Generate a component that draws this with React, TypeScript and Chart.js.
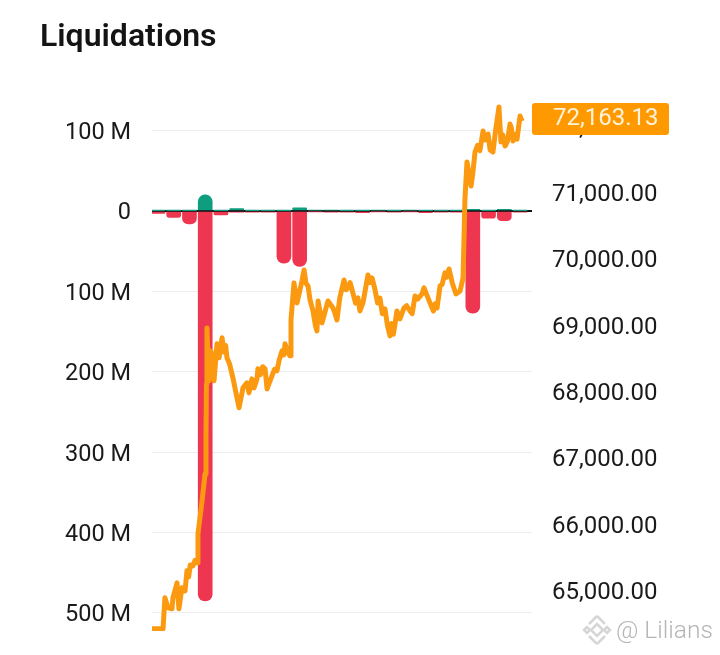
// App.tsx - liquidations bars with price line
import { useEffect, useRef } from 'react'
import { Chart, registerables } from 'chart.js'

Chart.register(...registerables)

// Hourly liquidation buckets (M)
const barHours = [0, 1, 2, 3, 4, 5, 6, 7, 8, 9, 10, 11, 12, 13, 14, 15, 16, 17, 18, 19, 20, 21, 22, 23]
const shortLiquidations = [0.5, 0.5, 0.5, 20, 0.5, 3, 0.5, 0.5, 0.5, 4, 1, 1, 0.5, 0.5, 1, 0.5, 1, 0.5, 0.5, 0.5, 2, 0.5, 2, 0.5]
const longLiquidations = [-3, -8, -16, -485, -5, -1.5, -1.5, -1.5, -65, -69, -1, -1.5, -1.5, -2, -1, -1.5, -1, -2, -1.5, -1.5, -127, -9, -12, -1.5]

// Price line
const priceHours = [
  -0.38, 0.32, 0.44, 0.64, 0.89, 0.95, 1.21, 1.33, 1.52, 1.72,
  1.84, 1.95, 2.05, 2.22, 2.35, 2.48, 2.54, 2.8, 2.99, 3.05,
  3.08, 3.11, 3.24, 3.37, 3.56, 3.75, 3.88, 4.07, 4.2, 4.3,
  4.38, 4.55, 4.76, 4.95, 5.15, 5.4, 5.65, 5.78, 5.97, 6.1,
  6.29, 6.35, 6.5, 6.65, 6.8, 6.93, 7.24, 7.4, 7.56, 7.7,
  7.88, 8.0, 8.07, 8.25, 8.39, 8.45, 8.64, 8.83, 9.02, 9.15,
  9.28, 9.4, 9.53, 9.66, 9.85, 10.0, 10.1, 10.17, 10.42, 10.8,
  11.12, 11.25, 11.37, 11.55, 11.82, 11.95, 12.07, 12.2, 12.33, 12.55,
  12.7, 12.83, 13.02, 13.34, 13.47, 13.6, 13.79, 13.95, 14.1, 14.25,
  14.42, 14.58, 14.74, 14.85, 14.95, 15.06, 15.18, 15.37, 15.63, 15.8,
  16.01, 16.15, 16.33, 16.5, 16.77, 16.9, 17.28, 17.5, 17.6, 17.73,
  17.92, 18.05, 18.23, 18.35, 18.49, 18.7, 18.93, 19.19, 19.38, 19.5,
  19.63, 19.89, 20.0, 20.14, 20.3, 20.45, 20.65, 20.8, 20.97, 21.1,
  21.28, 21.45, 21.66, 21.79, 21.9, 22.05, 22.2, 22.36, 22.45, 22.55,
  22.7, 22.81, 23.0, 23.13,
]
const priceValues = [
  64427, 64427, 64894, 64744, 64729, 64894, 65121, 64729, 65045, 65000,
  65302, 65210, 65390, 65377, 65460, 65422, 65860, 66357, 66764, 67368,
  68122, 68966, 68167, 68619, 68167, 68725, 68514, 68816, 68600, 68700,
  68514, 68420, 68212, 67990, 67760, 68061, 68137, 67986, 68197, 68060,
  68197, 68348, 68260, 68380, 68348, 68046, 68242, 68340, 68318, 68480,
  68619, 68560, 68725, 68600, 68544, 69086, 69644, 69342, 69538, 69680,
  69840, 69640, 69599, 69388, 69220, 69000, 68920, 69372, 69041, 69372,
  69267, 69180, 69086, 69420, 69689, 69540, 69569, 69650, 69538, 69340,
  69420, 69222, 69342, 69764, 69650, 69719, 69538, 69340, 69417, 69180,
  69252, 69000, 68845, 69030, 68870, 69026, 69222, 69101, 69267, 69300,
  69222, 69180, 69448, 69400, 69478, 69569, 69342, 69220, 69330, 69267,
  69599, 69620, 69795, 69730, 69855, 69640, 69478, 69523, 69719, 70910,
  71468, 71106, 71300, 71618, 71720, 71640, 71935, 71800, 71890, 71650,
  71618, 71950, 72297, 71769, 71880, 71709, 71780, 72041, 71980, 71784,
  71880, 71814, 72163.13, 72085,
]

const liquidationTicks = [100, 0, -100, -200, -300, -400, -500]
const priceTicks = [72000, 71000, 70000, 69000, 68000, 67000, 66000, 65000]
const lastPrice = 72163.13

const TEXT = '#1a1a1a'
const FONT = 'Roboto, sans-serif'
const ORANGE = '#fb9a10'

const fmtPrice = (v: number) =>
  v.toLocaleString('en-US', { minimumFractionDigits: 2, maximumFractionDigits: 2 })

// Orange tag on the right axis, sits over the 72,000 tick
const priceTag = {
  id: 'priceTag',
  afterDraw(chart: Chart) {
    const { ctx, chartArea, scales } = chart
    const y = scales.price.getPixelForValue(lastPrice) + 3
    ctx.save()
    ctx.fillStyle = '#ff9900'
    ctx.beginPath()
    ctx.roundRect(chartArea.right, y - 16, 137, 32, 3)
    ctx.fill()
    ctx.fillStyle = '#fff3dc'
    ctx.font = `24px ${FONT}`
    ctx.textAlign = 'left'
    ctx.textBaseline = 'middle'
    ctx.fillText(fmtPrice(lastPrice), chartArea.right + 21, y)
    ctx.restore()
  },
}

export default function App() {
  const canvasRef = useRef<HTMLCanvasElement>(null)

  useEffect(() => {
    if (!canvasRef.current) return

    const chart = new Chart(canvasRef.current, {
      type: 'bar',
      data: {
        datasets: [
          {
            type: 'line',
            data: priceHours.map((h, i) => ({ x: h, y: priceValues[i] })),
            yAxisID: 'price',
            borderColor: ORANGE,
            borderWidth: 5,
            borderJoinStyle: 'round',
            pointRadius: 0,
            tension: 0,
            order: 0,
          },
          {
            data: barHours.map((h, i) => ({ x: h, y: longLiquidations[i] })),
            yAxisID: 'y',
            backgroundColor: '#ee3650',
            barThickness: 14,
            grouped: false,
            borderRadius: 7,
            borderSkipped: 'start',
            order: 1,
          },
          {
            data: barHours.map((h, i) => ({ x: h, y: shortLiquidations[i] })),
            yAxisID: 'y',
            backgroundColor: '#0f9d7f',
            barThickness: 14,
            grouped: false,
            borderRadius: 7,
            borderSkipped: 'start',
            order: 2,
          },
        ],
      } as any,
      options: {
        animation: false,
        responsive: true,
        maintainAspectRatio: false,
        layout: { padding: { left: 40, bottom: 24 } },
        plugins: {
          legend: { display: false },
          tooltip: { enabled: false },
          title: {
            display: true,
            text: 'Liquidations',
            align: 'start',
            color: '#141414',
            font: { family: FONT, size: 32, weight: 600 },
            padding: { top: 19, bottom: 43.6 },
          },
        },
        scales: {
          x: { type: 'linear', min: -0.38, max: 23.76, offset: false, display: false },
          y: {
            position: 'left',
            min: -522.4,
            max: 136.8,
            afterFit: (s: any) => { s.width = 112; s.paddingBottom = 0; s.paddingTop = 0 },
            afterBuildTicks: (s: any) => { s.ticks = liquidationTicks.map((value) => ({ value })) },
            border: { display: false },
            grid: {
              drawTicks: false,
              color: (c: any) => (c.tick.value === 0 ? '#111111' : '#eeeeee'),
              lineWidth: (c: any) => (c.tick.value === 0 ? 2 : 1),
            },
            ticks: {
              color: TEXT,
              padding: 21,
              autoSkip: false,
              font: { family: FONT, size: 23.5, lineHeight: '5px' },
              // empty first line nudges the label down onto its gridline
              callback: (v: any) => ['', v === 0 ? '0' : `${Math.abs(v)} M`],
            },
          },
          price: {
            position: 'right',
            min: 64394,
            max: 72388,
            afterFit: (s: any) => { s.width = 188; s.paddingBottom = 0; s.paddingTop = 0 },
            afterBuildTicks: (s: any) => { s.ticks = priceTicks.map((value) => ({ value })) },
            border: { display: false },
            grid: { display: false, drawTicks: false },
            ticks: {
              color: TEXT,
              padding: 20,
              autoSkip: false,
              font: { family: FONT, size: 24, lineHeight: '4px' },
              callback: (v: any) => ['', fmtPrice(v)],
            },
          },
        },
      },
      plugins: [priceTag],
    })

    return () => chart.destroy()
  }, [])

  return (
    <div style={{ position: 'absolute', left: 0, top: 0, width: 720, height: 655, overflow: 'hidden', background: '#fff' }}>
      <canvas ref={canvasRef}></canvas>
      {/* watermark */}
      <svg width="32" height="32" viewBox="0 0 32 32" style={{ position: 'absolute', left: 581, top: 614 }}>
        <g fill="none" stroke="#d6d6d6" strokeWidth="2.5">
          <path d="M16 2 L24 10 M16 2 L8 10" />
          <path d="M16 30 L24 22 M16 30 L8 22" />
          <path d="M16 10 L22 16 L16 22 L10 16 Z" />
          <path d="M3 16 L6 13 L9 16 L6 19 Z" />
          <path d="M23 16 L26 13 L29 16 L26 19 Z" />
        </g>
      </svg>
      <div style={{ position: 'absolute', left: 616, top: 615, font: `300 24.5px ${FONT}`, color: '#b5b5b5', whiteSpace: 'nowrap' }}>
        @ Lilians
      </div>
    </div>
  )
}
